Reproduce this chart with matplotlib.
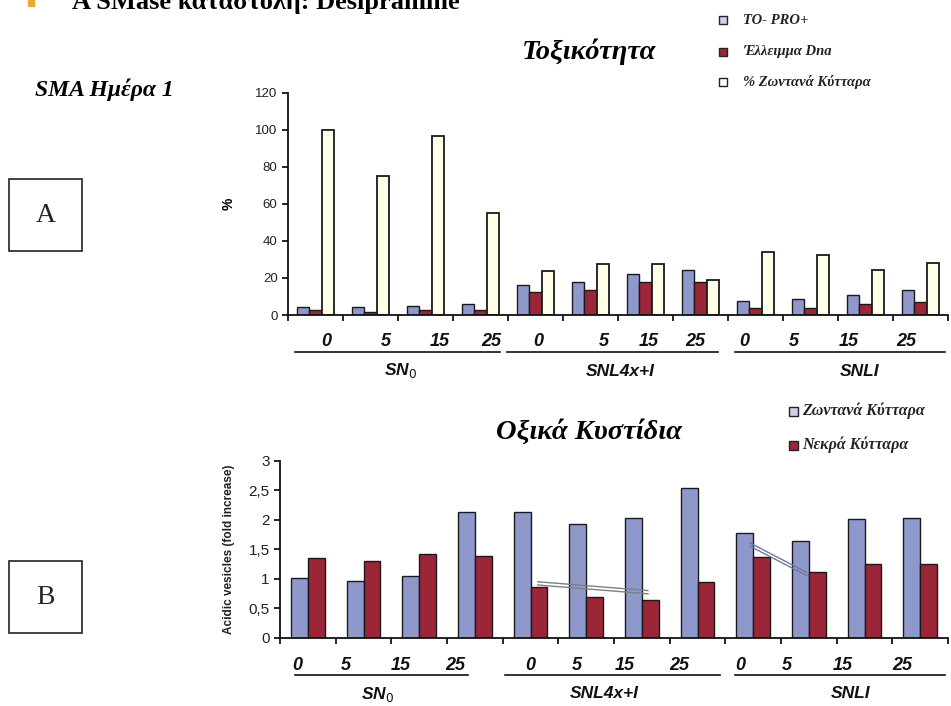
import numpy as np
import matplotlib
matplotlib.use("Agg")
import matplotlib.pyplot as plt
import matplotlib.transforms as mtransforms
from matplotlib.patches import Rectangle

# data
groups = ["SN$_0$", "SNL4x+I", "SNLI"]
doses = ["0", "5", "15", "25"]

# top chart (Τοξικότητα), % values
topro = [4.1, 4.1, 5.0, 5.9, 16.2, 17.7, 22.0, 24.1, 7.6, 8.5, 10.8, 13.5]
dna_deficit = [2.7, 1.8, 2.7, 2.7, 12.6, 13.5, 17.7, 17.6, 3.6, 3.6, 5.8, 6.8]
live_pct = [100, 74.8, 96.4, 55.3, 23.8, 27.6, 27.6, 19.1, 33.9, 32.4, 24.1, 28.3]

# bottom chart (Οξικά Κυστίδια), fold increase
live_cells = [1.01, 0.96, 1.04, 2.13, 2.13, 1.93, 2.03, 2.54, 1.77, 1.64, 2.01, 2.04]
dead_cells = [1.36, 1.30, 1.42, 1.39, 0.86, 0.69, 0.64, 0.95, 1.37, 1.12, 1.25, 1.25]

BLUE = "#8F98CB"
RED = "#9B2638"
CREAM = "#FFFFE8"

W, H = 951, 706
fig = plt.figure(figsize=(W / 100, H / 100), dpi=100)
fig.patch.set_facecolor("white")

sans = "Liberation Sans"
serif = "Liberation Serif"


def fx(px):
    return px / W


def fy(py):
    return 1 - py / H


def style_axes(ax, ytick_size):
    for s in ["top", "right"]:
        ax.spines[s].set_visible(False)
    for s in ["left", "bottom"]:
        ax.spines[s].set_linewidth(1.3)
        ax.spines[s].set_color("#111111")
    ax.set_xlim(0, 12)
    ax.set_xticks(np.arange(0, 13))
    ax.set_xticklabels([])
    ax.tick_params(axis="x", direction="out", length=4, width=1.2)
    ax.tick_params(axis="y", direction="out", length=4, width=1.2,
                   labelsize=ytick_size, labelcolor="#222222")
    for lab in ax.get_yticklabels():
        lab.set_family(sans)


def group_labels(ax, lab_x, lab_y, line_spans, line_y, name_x, name_y):
    tr = mtransforms.blended_transform_factory(ax.transData, fig.transFigure)
    for g in range(3):
        for k in range(4):
            ax.text(lab_x[g * 4 + k], fy(lab_y), doses[k], transform=tr,
                    ha="center", va="center", fontsize=13, fontweight="bold",
                    fontstyle="italic", family=sans, color="#111111")
        x0, x1 = line_spans[g]
        ax.plot([x0, x1], [fy(line_y), fy(line_y)], transform=tr,
                color="#111111", lw=1.2, clip_on=False)
        ax.text(name_x[g], fy(name_y), groups[g], transform=tr, ha="center",
                va="center", fontsize=12.5, fontweight="bold", fontstyle="italic",
                family=sans, color="#111111")


x = np.arange(12) + 0.5

# ---- top chart
ax1 = fig.add_axes([fx(288), fy(315), fx(948 - 288), (315 - 92.7) / H])
bw = 0.225
ax1.bar(x - bw, topro, bw, color=BLUE, edgecolor="#1a1a1a", lw=1)
ax1.bar(x, dna_deficit, bw, color=RED, edgecolor="#1a1a1a", lw=1)
ax1.bar(x + bw, live_pct, bw, color=CREAM, edgecolor="#1a1a1a", lw=1.3)
ax1.set_ylim(0, 120)
ax1.set_yticks(range(0, 121, 20))
style_axes(ax1, 9.5)
ax1.set_ylabel("%", fontsize=10, fontweight="bold", family=sans, labelpad=14)

group_labels(ax1,
             [0.7, 1.78, 2.75, 3.7, 4.55, 5.75, 6.55, 7.4, 8.3, 9.2, 10.2, 11.25],
             342, [(0.13, 3.85), (3.98, 7.82), (8.13, 11.95)], 352,
             [2.04, 6.04, 10.4], 371)

# ---- bottom chart
ax2 = fig.add_axes([fx(280), fy(637.7), fx(948 - 280), (637.7 - 461) / H])
bw2 = 0.3
ax2.bar(x - bw2 / 2, live_cells, bw2, color=BLUE, edgecolor="#1a1a1a", lw=1)
ax2.bar(x + bw2 / 2, dead_cells, bw2, color=RED, edgecolor="#1a1a1a", lw=1)
ax2.set_ylim(0, 3)
ax2.set_yticks([0, 0.5, 1, 1.5, 2, 2.5, 3])
ax2.set_yticklabels(["0", "0,5", "1", "1,5", "2", "2,5", "3"])
style_axes(ax2, 11)
ax2.set_ylabel("Acidic vesicles (fold increase)", fontsize=8.5,
               fontweight="bold", family=sans, color="#222222", labelpad=10)

# double slanted lines
for (xa, ya, xb, yb, c) in [(4.63, 0.95, 6.61, 0.80, "#808080"),
                            (8.44, 1.61, 9.46, 1.11, "#7078A0")]:
    for d in (0.0, -0.055):
        ax2.plot([xa, xb], [ya + d, yb + d], color=c, lw=1.0)

group_labels(ax2,
             [0.31, 1.18, 2.17, 3.14, 4.49, 5.33, 6.19, 7.18, 8.26, 9.1, 10.1, 11.17],
             665, [(0.27, 3.38), (4.04, 7.9), (8.17, 11.94)], 675,
             [1.76, 5.83, 10.25], 694)

# ---- titles and side labels
fig.text(fx(589), fy(52), "Τοξικότητα", ha="center", va="center",
         fontsize=20.5, fontweight="bold", fontstyle="italic", family=serif)
fig.text(fx(589), fy(432), "Οξικά Κυστίδια", ha="center", va="center",
         fontsize=20.5, fontweight="bold", fontstyle="italic", family=serif)
fig.text(fx(35), fy(90), "SMA Ημέρα 1", ha="left", va="center",
         fontsize=17, fontweight="bold", fontstyle="italic", family=serif)
fig.text(fx(72), fy(9), "A SMase καταστολή: Desipramine", ha="left",
         va="baseline", fontsize=19, fontweight="bold", family=serif)
fig.patches.append(Rectangle((fx(28), fy(6)), fx(6), 6 / H, color="#F0A830",
                             transform=fig.transFigure, figure=fig))

for letter, y0 in [("A", 179), ("B", 561)]:
    fig.patches.append(Rectangle((fx(9), fy(y0 + 72)), fx(73), 72 / H,
                                 fill=False, ec="#222222", lw=1.2,
                                 transform=fig.transFigure, figure=fig))
    fig.text(fx(45.5), fy(y0 + 36), letter, ha="center", va="center",
             fontsize=20, family=serif, color="#222222")


# ---- legends
def legend_item(px, py, face, label, gap, fs, size=8):
    fig.patches.append(Rectangle((fx(px), fy(py + size / 2)), fx(size), size / H,
                                 fc=face, ec="#222222", lw=1,
                                 transform=fig.transFigure, figure=fig))
    fig.text(fx(px + gap), fy(py), label, ha="left", va="center", fontsize=fs,
             fontstyle="italic", fontweight="bold", family=serif,
             color="#222222")


legend_item(719, 20, "#CDD0EC", "TO- PRO+", 24, 10.5)
legend_item(719, 52, RED, "Έλλειμμα Dna", 24, 10.5)
legend_item(719, 82, "white", "% Ζωντανά Κύτταρα", 24, 10.5)
legend_item(789, 411, "#CDD0EC", "Ζωντανά Κύτταρα", 13, 11.5, size=9)
legend_item(789, 445, RED, "Νεκρά Κύτταρα", 13, 11.5, size=9)

fig.savefig("out.png", dpi=100)
